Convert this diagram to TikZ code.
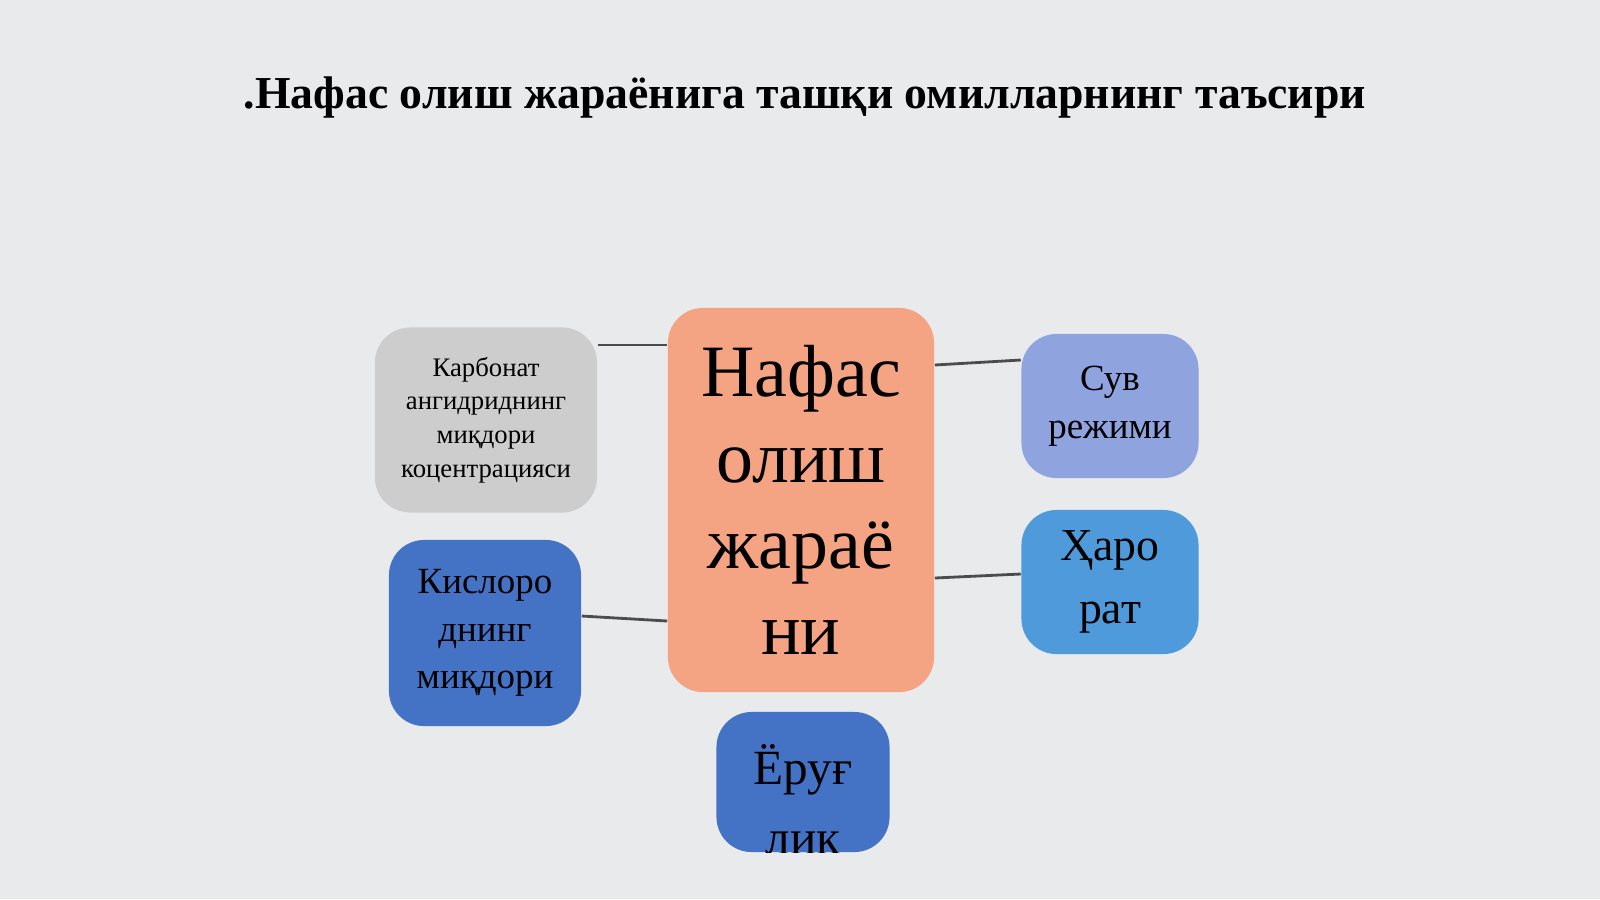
\documentclass[tikz,border=0pt]{standalone}
\usepackage{fontspec}
\setmainfont{Liberation Serif}
\definecolor{bgsnow}{HTML}{E9EAEC}
\definecolor{carbgray}{HTML}{CDCDCD}
\definecolor{mainsalmon}{HTML}{F4A383}
\definecolor{suvblue}{HTML}{8FA3DE}
\definecolor{haroblue}{HTML}{4F9ADB}
\definecolor{darkblue}{HTML}{4472C4}
\tikzset{
  factor/.style={rounded corners=10pt, align=center, inner sep=0pt, text=black},
  link/.style={black!70, line width=0.8pt}
}
\begin{document}
\begin{tikzpicture}[x=0.01cm, y=-0.01cm]
  \fill[bgsnow] (0,0) rectangle (1600,899);
  \useasboundingbox (0,0) rectangle (1600,899);

  \node[font=\fontsize{13pt}{15pt}\selectfont\bfseries] (title) at (805,97) {.Нафас олиш жараёнига ташқи омилларнинг таъсири};

  \node[factor, fill=carbgray, minimum width=2.22cm, minimum height=1.85cm,
    font=\fontsize{7.6pt}{9.6pt}\selectfont] (carb) at (486,420)
    {Карбонат\\ ангидриднинг\\ миқдори\\ коцентрацияси};
  \node[factor, fill=mainsalmon, minimum width=2.66cm, minimum height=3.84cm,
    font=\fontsize{21pt}{24.5pt}\selectfont] (main) at (801,500)
    {Нафас\\ олиш\\ жараё\\ ни};
  \node[factor, fill=suvblue, minimum width=1.77cm, minimum height=1.44cm,
    font=\fontsize{10.5pt}{13.5pt}\selectfont] (suv) at (1110,406)
    {Сув\\ режими};
  \node[factor, fill=haroblue, minimum width=1.77cm, minimum height=1.44cm,
    font=\fontsize{13pt}{18pt}\selectfont] (haro) at (1110,582)
    {Ҳаро\\ рат};
  \node[factor, fill=darkblue, minimum width=1.92cm, minimum height=1.86cm,
    font=\fontsize{10.5pt}{13.5pt}\selectfont] (kisl) at (485,633)
    {Кислоро\\ днинг\\ миқдори};
  \node[factor, fill=darkblue, minimum width=1.73cm, minimum height=1.40cm] (yorug) at (803,782)
    {};
  \begin{scope}
    \clip[rounded corners=10pt] (yorug.south west) rectangle (yorug.north east);
    \node[align=center, font=\fontsize{14pt}{20pt}\selectfont] (yorugtxt) at (803,800) {Ёруғ\\ лик};
  \end{scope}

  \draw[link] (carb.east |- 0,345) -- (main.west |- 0,345);
  \draw[link] (main.east |- 0,365) -- (suv.west |- 0,360);
  \draw[link] (main.east |- 0,578) -- (haro.west |- 0,574);
  \draw[link] (kisl.east |- 0,616) -- (main.west |- 0,621);
\end{tikzpicture}
\end{document}
